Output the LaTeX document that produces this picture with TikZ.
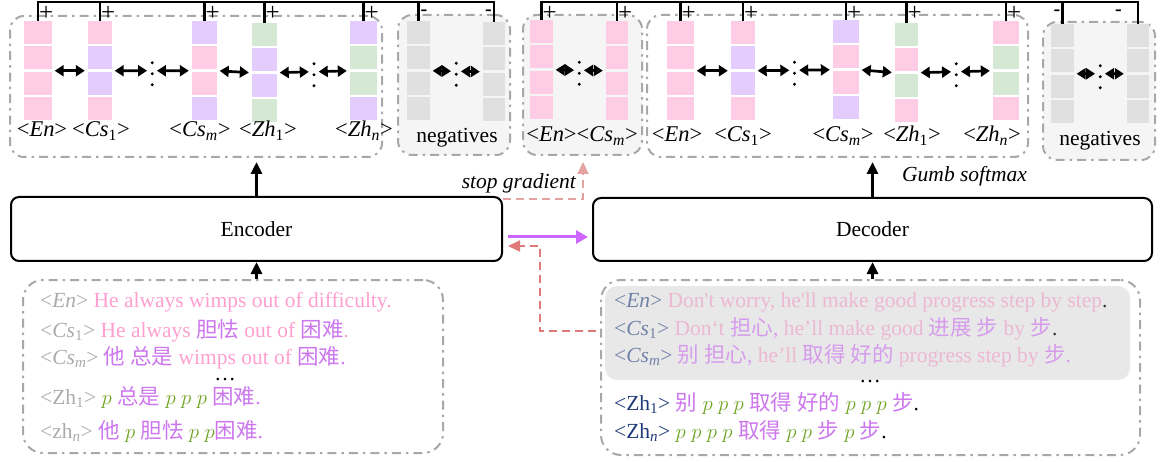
\documentclass[tikz,border=0pt]{standalone}
\usepackage{fontspec}
\setmainfont{Liberation Serif}
\newfontfamily\cjk{Noto Sans CJK SC}
\usetikzlibrary{arrows.meta,calc}

\definecolor{cpink}{HTML}{FFCCE6}
\definecolor{cpurp}{HTML}{E5CCFF}
\definecolor{cgreen}{HTML}{D5E8D4}
\definecolor{cgray}{HTML}{E0E0E0}
\definecolor{boxgray}{HTML}{A8A8A8}
\definecolor{boxfill}{HTML}{F5F5F5}
\definecolor{tpink}{HTML}{FF9FCF}
\definecolor{tpurp}{HTML}{CC77EE}
\definecolor{tgreen}{HTML}{6FA322}
\definecolor{tlab}{HTML}{ABABAB}
\definecolor{fpink}{HTML}{EDB8D2}
\definecolor{fpurp}{HTML}{D69CEC}
\definecolor{flab}{HTML}{7282A8}
\definecolor{navy}{HTML}{1F3A78}
\definecolor{violetarrow}{HTML}{CC66FF}
\definecolor{retred}{HTML}{E07A7A}
\definecolor{sgpink}{HTML}{E3A3A3}
\definecolor{innergray}{HTML}{E8E8E8}
\definecolor{darkdot}{HTML}{333333}

\newcommand\zh[1]{{\cjk #1}}
\newcommand\angl[1]{\textless#1\textgreater}

% name, x, ytop, width, c1..c4
\newcommand\stk[8]{%
  \foreach \cc [count=\ii] in {#5,#6,#7,#8}
    \node[cell, minimum width=#4, fill=\cc] (#1-\ii) at (#2,{#3+11.5+(\ii-1)*25.5}) {};
  \coordinate (#1-m) at ($(#1-2.south)!0.5!(#1-3.north)$);
}
\newcommand\vdotsnode[3]{% name, left col, right col
  \node[dotn] (#1) at ($(#2-m)!0.5!(#3-m)$) {};
  \fill (#1) +(0,-8) circle (1.7pt) +(0,3) circle (1.7pt) +(0,14) circle (1.7pt);
}

\begin{document}
\begin{tikzpicture}[x=1pt,y=-1pt,
  font=\fontsize{21.5}{25}\selectfont,
  cell/.style={draw=none, inner sep=0, minimum height=23},
  dotn/.style={inner sep=0, minimum width=4, minimum height=4},
  grp/.style={draw=boxgray, line width=2, dash pattern=on 9pt off 5pt on 2.5pt off 5pt, rounded corners=14, inner sep=0},
  dbl/.style={{Triangle[length=9pt,width=11pt]}-{Triangle[length=9pt,width=11pt]}, line width=2.7, shorten <=2.5, shorten >=3},
  bracket/.style={line width=2.5},
  sgn/.style={inner sep=0, font=\fontsize{25}{25}\selectfont},
  msgn/.style={inner sep=0, font=\fontsize{20}{20}\selectfont\bfseries},
  lbl/.style={anchor=base, inner sep=0, font=\fontsize{22.5}{26}\selectfont},
  coder/.style={draw, line width=2, rounded corners=8, inner sep=0},
  up/.style={-{Triangle[length=12pt,width=11pt]}, line width=3},
  txt/.style={anchor=base west, inner sep=0},
]
\useasboundingbox (0,0) rectangle (1161,462);

% ---------- group containers ----------
\node[grp, minimum width=372, minimum height=141] (gL) at (196,86.5) {};
\node[grp, fill=boxfill, minimum width=112, minimum height=140] (gN1) at (454,85) {};
\node[grp, fill=boxfill, minimum width=119, minimum height=140] (gP) at (582.5,85) {};
\node[grp, minimum width=381, minimum height=142] (gR) at (837.5,86) {};
\node[grp, fill=boxfill, minimum width=112, minimum height=138] (gN2) at (1099,91) {};

% ---------- stacks ----------
\stk{aL1}{38}{21}{28}{cpink}{cpink}{cpink}{cpink}
\stk{aL2}{100}{21}{24}{cpink}{cpurp}{cpurp}{cpink}
\stk{aL3}{204.5}{21}{25}{cpurp}{cpink}{cpink}{cpurp}
\stk{aL4}{264.5}{23}{25}{cgreen}{cpurp}{cpurp}{cgreen}
\stk{aL5}{363.5}{21}{27}{cpurp}{cgreen}{cgreen}{cpurp}
\stk{nL1}{418.5}{21}{23}{cgray}{cgray}{cgray}{cgray}
\stk{nL2}{494}{22}{22}{cgray}{cgray}{cgray}{cgray}
\stk{bP1}{541.5}{20}{23}{cpink}{cpink}{cpink}{cpink}
\stk{bP2}{617}{21}{22}{cpink}{cpink}{cpink}{cpink}
\stk{aR1}{680.5}{21}{27}{cpink}{cpink}{cpink}{cpink}
\stk{aR2}{743}{21}{24}{cpink}{cpurp}{cpurp}{cpink}
\stk{aR3}{846}{20}{26}{cpurp}{cpink}{cpink}{cpurp}
\stk{aR4}{906.5}{23}{23}{cgreen}{cpink}{cgreen}{cpink}
\stk{aR5}{1006}{21}{26}{cpink}{cgreen}{cgreen}{cpink}
\stk{nR1}{1062.5}{24}{23}{cgray}{cgray}{cgray}{cgray}
\stk{nR2}{1138}{24}{22}{cgray}{cgray}{cgray}{cgray}

% ---------- dots ----------
\vdotsnode{dL1}{aL2}{aL3}
\vdotsnode{dL2}{aL4}{aL5}
\vdotsnode{dN1}{nL1}{nL2}
\vdotsnode{dP}{bP1}{bP2}
\vdotsnode{dR1}{aR2}{aR3}
\vdotsnode{dR2}{aR4}{aR5}
\vdotsnode{dN2}{nR1}{nR2}

% ---------- double arrows ----------
\draw[dbl] (aL1-m -| aL1-2.east) -- (aL2-m -| aL2-2.west);
\draw[dbl] (aL2-m -| aL2-2.east) -- (dL1.west);
\draw[dbl] (dL1.east) -- (aL3-m -| aL3-2.west);
\draw[dbl] (aL3-m -| aL3-2.east) -- (aL4-m -| aL4-2.west);
\draw[dbl] (aL4-m -| aL4-2.east) -- (dL2.west);
\draw[dbl] (dL2.east) -- (aL5-m -| aL5-2.west);
\draw[dbl] (nL1-m -| nL1-2.east) -- (dN1.west);
\draw[dbl] (dN1.east) -- (nL2-m -| nL2-2.west);
\draw[dbl] (bP1-m -| bP1-2.east) -- (dP.west);
\draw[dbl] (dP.east) -- (bP2-m -| bP2-2.west);
\draw[dbl] (aR1-m -| aR1-2.east) -- (aR2-m -| aR2-2.west);
\draw[dbl] (aR2-m -| aR2-2.east) -- (dR1.west);
\draw[dbl] (dR1.east) -- (aR3-m -| aR3-2.west);
\draw[dbl] (aR3-m -| aR3-2.east) -- (aR4-m -| aR4-2.west);
\draw[dbl] (aR4-m -| aR4-2.east) -- (dR2.west);
\draw[dbl] (dR2.east) -- (aR5-m -| aR5-2.west);
\draw[dbl] (nR1-m -| nR1-2.east) -- (dN2.west);
\draw[dbl] (dN2.east) -- (nR2-m -| nR2-2.west);

% ---------- top brackets ----------
\coordinate (topL) at (0,2);
\coordinate (plusY) at (0,13.5);
\coordinate (minY) at (0,13);
\draw[bracket] (aL1-1.north) -- (aL1-1.north |- topL) -- (nL2-1.north |- topL) -- (nL2-1.north);
\foreach \n in {aL2,aL3,aL4,aL5,nL1}
  \draw[bracket] (\n-1.north) -- (\n-1.north |- topL);
\draw[bracket] (bP1-1.north) -- (bP1-1.north |- topL) -- (nR2-1.north |- topL) -- (nR2-1.north);
\foreach \n in {bP2,aR1,aR2,aR3,aR4,aR5,nR1}
  \draw[bracket] (\n-1.north) -- (\n-1.north |- topL);
\foreach \n in {aL1,aL2,aL3,aL4,aL5,bP1,bP2,aR1,aR2,aR3,aR4,aR5}
  \node[sgn, anchor=west, xshift=1pt] at (\n-1.north |- plusY) {+};
\node[msgn, anchor=west, xshift=2pt] at (nL1-1.north |- minY) {-};
\node[msgn, anchor=east, xshift=-2pt] at (nL2-1.north |- minY) {-};
\node[msgn, anchor=east, xshift=-2pt] at (nR1-1.north |- minY) {-};
\node[msgn, anchor=east, xshift=-16pt] at (nR2-1.north |- minY) {-};

% ---------- top labels ----------
\node[lbl] (tl1) at (42,137) {\angl{\textit{En}}};
\node[lbl] (tl2) at (101,137) {\angl{\textit{Cs}\textsubscript{1}}};
\node[lbl] (tl3) at (200,137) {\angl{\textit{Cs}\textsubscript{\textit{m}}}};
\node[lbl] (tl4) at (268,137) {\angl{\textit{Zh}\textsubscript{1}}};
\node[lbl] (tl5) at (364,137) {\angl{\textit{Zh}\textsubscript{\textit{n}}}};
\node[lbl, font=\fontsize{21.5}{25}\selectfont] (tn1) at (457,143) {negatives};
\node[lbl] (tp) at (582,142) {\angl{\textit{En}}\angl{\textit{Cs}\textsubscript{\textit{m}}}};
\node[lbl] (tr1) at (677,142) {\angl{\textit{En}}};
\node[lbl] (tr2) at (743,142) {\angl{\textit{Cs}\textsubscript{1}}};
\node[lbl] (tr3) at (843,142) {\angl{\textit{Cs}\textsubscript{\textit{m}}}};
\node[lbl] (tr4) at (912,142) {\angl{\textit{Zh}\textsubscript{1}}};
\node[lbl] (tr5) at (992,142) {\angl{\textit{Zh}\textsubscript{\textit{n}}}};
\node[lbl, font=\fontsize{21.5}{25}\selectfont] (tn2) at (1100,146) {negatives};

% ---------- encoder / decoder ----------
\node[coder, minimum width=491, minimum height=64] (enc) at (256.5,229) {Encoder};
\node[coder, minimum width=559, minimum height=63] (dec) at (872.5,229.5) {Decoder};

% ---------- input boxes ----------
\node[grp, rounded corners=20, minimum width=420, minimum height=173] (inL) at (233,366.5) {};
\node[grp, rounded corners=20, minimum width=539, minimum height=175] (inR) at (870.5,367.5) {};
\node[fill=innergray, rounded corners=12, minimum width=525, minimum height=94, inner sep=0] (inG) at (867.5,333) {};

% ---------- vertical arrows ----------
\draw[up, shorten >=4] (enc.north) -- (enc.north |- gL.south);
\draw[up] (enc.south |- inL.north) -- (enc.south);
\draw[up, shorten >=4] (dec.north) -- (dec.north |- gR.south);
\draw[up] (dec.south |- inR.north) -- (dec.south);

% ---------- encoder -> decoder ----------
\coordinate (pv) at (0,237);
\draw[violetarrow, line width=3, -{Triangle[length=12pt,width=13pt]}, shorten <=5, shorten >=4]
  (enc.east |- pv) -- (dec.west |- pv);

% ---------- stop gradient ----------
\coordinate (sA) at (583,199);
\draw[sgpink, line width=2.2, dash pattern=on 8pt off 5pt, -{Triangle[length=12pt,width=11pt]}, shorten >=6]
  (enc.east |- sA) -- (sA) -- (sA |- gP.south);
\node[inner sep=0, anchor=base] (sgl) at (519,189) {\textit{stop gradient}};

% ---------- return arrow ----------
\coordinate (rA) at (540,331);
\coordinate (rB) at (540,246);
\draw[retred, line width=2.2, dash pattern=on 8pt off 5pt, -{Triangle[length=12pt,width=11pt]}, shorten >=5]
  ([xshift=-4pt]inR.west |- rA) -- (rA) -- (rB) -- (enc.east |- rB);

\node[inner sep=0, anchor=base west] (gsl) at (902,182) {\textit{Gumb softmax}};

% ---------- left input text ----------
\node[txt] (l1) at (40,307) {\textcolor{tlab}{\angl{\textit{En}}} \textcolor{tpink}{He always wimps out of difficulty.}};
\node[txt] (l2) at (40,337) {\textcolor{tlab}{\angl{\textit{Cs}\textsubscript{1}}} \textcolor{tpink}{He always} \textcolor{tpurp}{\zh{胆怯}} \textcolor{tpink}{out of} \textcolor{tpurp}{\zh{困难}}\textcolor{tpink}{.}};
\node[txt] (l3) at (40,364) {\textcolor{tlab}{\angl{\textit{Cs}\textsubscript{\textit{m}}}} \textcolor{tpurp}{\zh{他 总是}} \textcolor{tpink}{wimps out of} \textcolor{tpurp}{\zh{困难}.}};
\node[inner sep=0] (ld) at (225,380) {\ldots};
\node[txt] (l4) at (40,404) {\textcolor{tlab}{\angl{Zh\textsubscript{1}}} \textcolor{tgreen}{$p$} \textcolor{tpurp}{\zh{总是}} \textcolor{tgreen}{$p$ $p$ $p$} \textcolor{tpurp}{\zh{困难}.}};
\node[txt] (l5) at (40,438) {\textcolor{tlab}{\angl{zh\textsubscript{\textit{n}}}} \textcolor{tpurp}{\zh{他}} \textcolor{tgreen}{$p$} \textcolor{tpurp}{\zh{胆怯}} \textcolor{tgreen}{$p$ $p$}\textcolor{tpurp}{\zh{困难}.}};

% ---------- right input text ----------
\node[txt] (r1) at (614,307) {\textcolor{flab}{\angl{\textit{En}}} \textcolor{fpink}{Don\textquotesingle t worry, he\textquotesingle ll make good progress step by step}\textcolor{darkdot}{.}};
\node[txt] (r2) at (614,335) {\textcolor{flab}{\angl{\textit{Cs}\textsubscript{1}}} \textcolor{fpink}{Don‘t} \textcolor{fpurp}{\zh{担心},} \textcolor{fpink}{he’ll make good} \textcolor{fpurp}{\zh{进展 步}} \textcolor{fpink}{by} \textcolor{fpurp}{\zh{步}}\textcolor{darkdot}{.}};
\node[txt] (r3) at (614,362) {\textcolor{flab}{\angl{\textit{Cs}\textsubscript{\textit{m}}}} \textcolor{fpurp}{\zh{别 担心},} \textcolor{fpink}{he’ll} \textcolor{fpurp}{\zh{取得 好的}} \textcolor{fpink}{progress step by} \textcolor{fpurp}{\zh{步}.}};
\node[inner sep=0] (rd) at (870,382) {\ldots};
\node[txt] (r4) at (614,410) {\textcolor{navy}{\angl{Zh\textsubscript{1}}} \textcolor{tpurp}{\zh{别}} \textcolor{tgreen}{$p$ $p$ $p$} \textcolor{tpurp}{\zh{取得 好的}} \textcolor{tgreen}{$p$ $p$ $p$} \textcolor{tpurp}{\zh{步}}.};
\node[txt] (r5) at (614,438) {\textcolor{navy}{\angl{Zh\textsubscript{\textit{n}}}} \textcolor{tgreen}{$p$ $p$ $p$ $p$} \textcolor{tpurp}{\zh{取得}} \textcolor{tgreen}{$p$ $p$} \textcolor{tpurp}{\zh{步}} \textcolor{tgreen}{$p$} \textcolor{tpurp}{\zh{步}}.};

\end{tikzpicture}
\end{document}
